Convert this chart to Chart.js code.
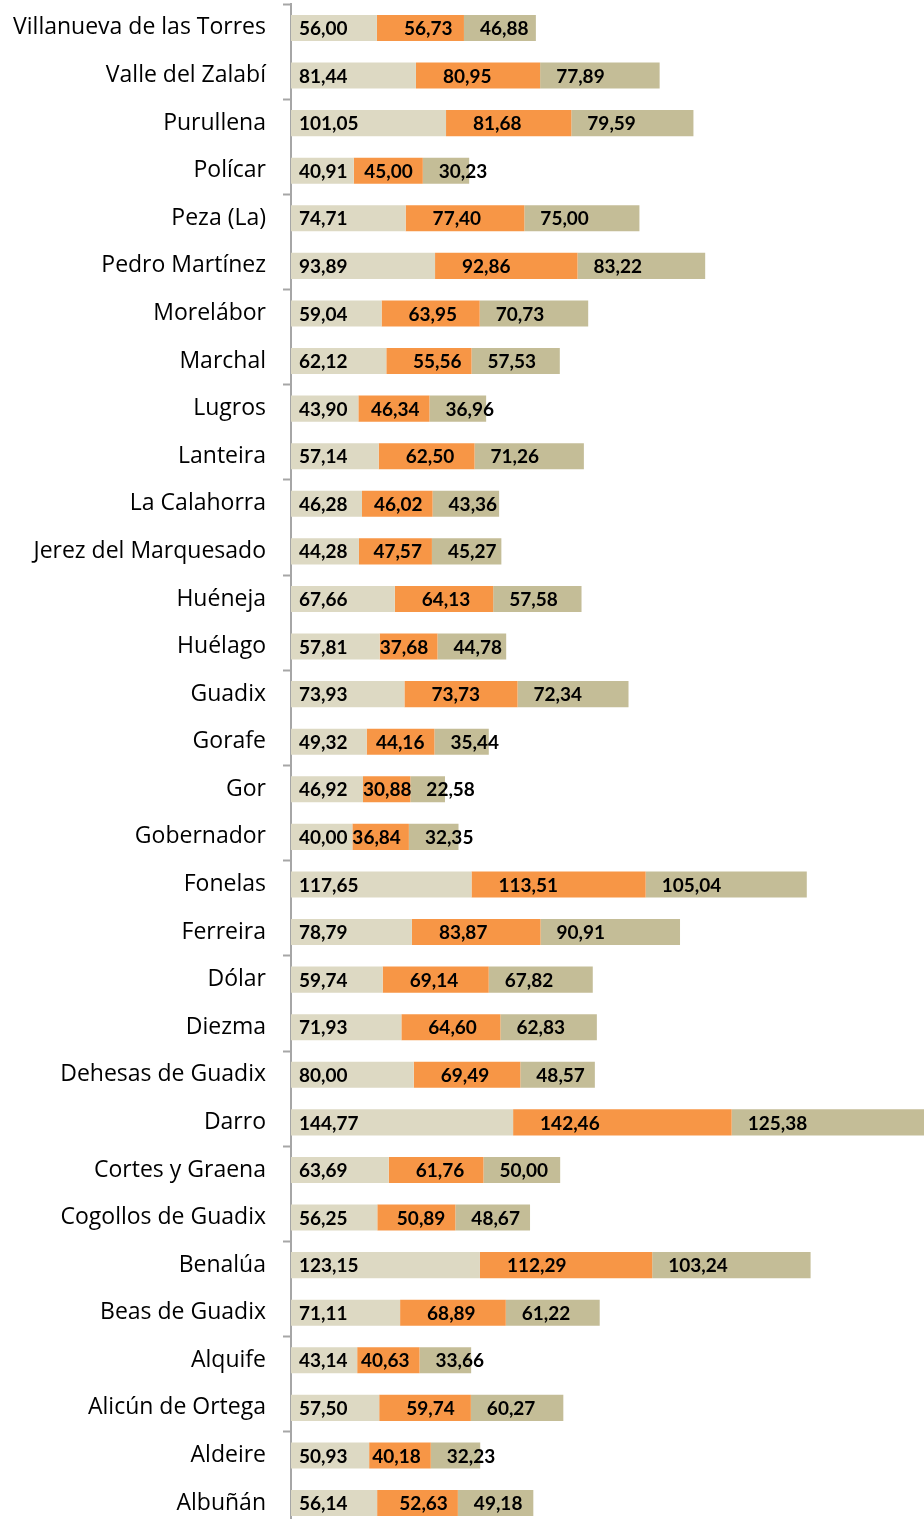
<!DOCTYPE html>
<html lang="es">
<head>
    <meta charset="UTF-8" />
    <title>Municipios - barras apiladas</title>
    <script src="https://cdn.jsdelivr.net/npm/chart.js"></script>
    <style>
        html, body {
            margin: 0;
            padding: 0;
            background: #fff;
            overflow: hidden;
        }
        #wrap {
            width: 924px;
            height: 1559px;
            margin-top: -14px;
        }
    </style>
</head>
<body>

<div id="wrap">
    <canvas id="chart" width="924" height="1559"></canvas>
</div>

<script>
    const categories = [
        'Villanueva de las Torres', 'Valle del Zalabí', 'Purullena', 'Polícar', 'Peza (La)',
        'Pedro Martínez', 'Morelábor', 'Marchal', 'Lugros', 'Lanteira', 'La Calahorra',
        'Jerez del Marquesado', 'Huéneja', 'Huélago', 'Guadix', 'Gorafe', 'Gor', 'Gobernador',
        'Fonelas', 'Ferreira', 'Dólar', 'Diezma', 'Dehesas de Guadix', 'Darro',
        'Cortes y Graena', 'Cogollos de Guadix', 'Benalúa', 'Beas de Guadix', 'Alquife',
        'Alicún de Ortega', 'Aldeire', 'Albuñán'
    ];

    const serie1 = [56.00, 81.44, 101.05, 40.91, 74.71, 93.89, 59.04, 62.12, 43.90, 57.14, 46.28,
        44.28, 67.66, 57.81, 73.93, 49.32, 46.92, 40.00, 117.65, 78.79, 59.74, 71.93, 80.00,
        144.77, 63.69, 56.25, 123.15, 71.11, 43.14, 57.50, 50.93, 56.14];

    const serie2 = [56.73, 80.95, 81.68, 45.00, 77.40, 92.86, 63.95, 55.56, 46.34, 62.50, 46.02,
        47.57, 64.13, 37.68, 73.73, 44.16, 30.88, 36.84, 113.51, 83.87, 69.14, 64.60, 69.49,
        142.46, 61.76, 50.89, 112.29, 68.89, 40.63, 59.74, 40.18, 52.63];

    const serie3 = [46.88, 77.89, 79.59, 30.23, 75.00, 83.22, 70.73, 57.53, 36.96, 71.26, 43.36,
        45.27, 57.58, 44.78, 72.34, 35.44, 22.58, 32.35, 105.04, 90.91, 67.82, 62.83, 48.57,
        125.38, 50.00, 48.67, 103.24, 61.22, 33.66, 60.27, 32.23, 49.18];

    const colors = ['#DDD9C3', '#F79646', '#C4BD97'];
    const labelOffsets = [8, 27, 16];

    function fmt(v) {
        return v.toFixed(2).replace('.', ',');
    }

    // etiquetas de valor dentro de cada tramo
    const valueLabels = {
        id: 'valueLabels',
        afterDatasetsDraw(chart) {
            const ctx = chart.ctx;
            ctx.save();
            ctx.font = 'bold 19px Lato';
            ctx.fillStyle = '#000';
            ctx.textBaseline = 'middle';
            ctx.textAlign = 'left';
            chart.data.datasets.forEach((ds, di) => {
                chart.getDatasetMeta(di).data.forEach((bar, i) => {
                    const text = fmt(ds.data[i]);
                    const start = Math.min(bar.base, bar.x);
                    const w = Math.abs(bar.x - bar.base);
                    const tw = ctx.measureText(text).width;
                    let off = labelOffsets[di];
                    if (di === 1) off = Math.max(0, Math.min(off, w - tw - 10));
                    ctx.fillText(text, start + off, bar.y + 1);
                });
            });
            ctx.restore();
        }
    };

    new Chart(document.getElementById('chart'), {
        type: 'bar',
        data: {
            labels: categories,
            datasets: [serie1, serie2, serie3].map((d, i) => ({
                label: 'Serie ' + (i + 1),
                data: d,
                backgroundColor: colors[i],
                borderWidth: 0,
                categoryPercentage: 1,
                barPercentage: 0.547
            }))
        },
        options: {
            indexAxis: 'y',
            responsive: false,
            animation: false,
            layout: { padding: 0 },
            plugins: {
                legend: { display: false },
                tooltip: { enabled: false }
            },
            scales: {
                x: {
                    stacked: true,
                    display: false,
                    min: 0,
                    max: 412.6
                },
                y: {
                    stacked: true,
                    afterFit(scale) { scale.width = 291; },
                    grid: {
                        drawOnChartArea: false,
                        drawTicks: true,
                        tickLength: 8,
                        tickWidth: 2,
                        tickColor: (c) => (c.index % 2 === 0 ? '#A6A6A6' : 'rgba(0,0,0,0)')
                    },
                    border: { color: '#A6A6A6', width: 2 },
                    ticks: {
                        color: '#000',
                        padding: 17,
                        autoSkip: false,
                        font: { family: 'Open Sans', size: 23, lineHeight: 0.1 }
                    }
                }
            }
        },
        plugins: [valueLabels]
    });
</script>

</body>
</html>
